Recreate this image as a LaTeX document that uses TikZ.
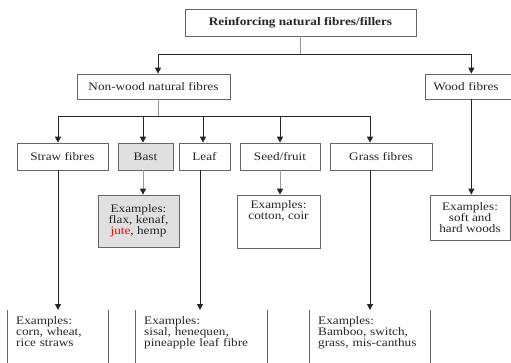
\documentclass[tikz,border=0pt]{standalone}
\usepackage{fontspec}
\setmainfont[FakeStretch=1.15]{Liberation Serif}
\usetikzlibrary{arrows.meta}
\begin{document}
\begin{tikzpicture}[x=1pt,y=-1pt,
  font=\fontsize{11.5}{11}\selectfont,
  box/.style={draw=black!60,line width=0.7pt,fill=white,inner sep=2pt,align=center,text=black!85},
  greybox/.style={box,fill=black!12},
  openbox/.style={anchor=north west,inner xsep=9pt,inner ysep=6pt,align=left,text=black!85},
  link/.style={black!85,line width=1pt},
  stem/.style={black!40,line width=0.8pt},
  arr/.style={link,-{Triangle[length=6pt,width=6pt]}},
  greyarr/.style={stem,-{Triangle[length=6pt,width=6pt,black!85]}},
  side/.style={black!60,line width=0.8pt}]
\useasboundingbox (0,0) rectangle (511,363);
\clip (0,0) rectangle (511,363);

% top levels
\node[box,minimum width=231pt,minimum height=27pt,font=\fontsize{11.5}{11}\selectfont\bfseries] (top) at (300.5,22.5) {Reinforcing natural fibres/fillers};
\node[box,minimum width=153pt,minimum height=25pt] (nonwood) at (153.5,86.5) {Non-wood natural fibres};
\node[box,anchor=west,minimum height=25pt,text width=80pt,inner xsep=8pt,align=left] (wood) at (425,86.5) {Wood fibres};

% non-wood groups
\node[box,minimum width=91pt,minimum height=27pt] (straw) at (62.5,156.5) {Straw fibres};
\node[greybox,minimum width=55pt,minimum height=27pt] (bast) at (145.5,156.5) {Bast};
\node[box,minimum width=51pt,minimum height=27pt] (leaf) at (204.5,156.5) {Leaf};
\node[box,minimum width=80pt,minimum height=27pt] (seed) at (280,156.5) {Seed/fruit};
\node[box,minimum width=102pt,minimum height=27pt] (grass) at (381,156.5) {Grass fibres};

% examples
\node[greybox,minimum width=81pt,minimum height=52pt] (bastex) at (138.5,221) {Examples:\\flax, kenaf,\\\textcolor{red}{jute}, hemp};
\node[box,minimum width=83pt,minimum height=53pt,text depth=22pt] (seedex) at (278.5,221.5) {Examples:\\cotton, coir};
\node[box,minimum width=80pt,minimum height=45pt] (woodex) at (470,217.5) {Examples:\\soft and\\hard woods};
\node[openbox,text width=83pt] (strawex) at (7,310) {Examples:\\corn, wheat,\\rice straws};
\node[openbox,text width=114pt] (leafex) at (135,310) {Examples:\\sisal, henequen,\\pineapple leaf fibre};
\node[openbox,text width=103pt] (grassex) at (309,310) {Examples:\\Bamboo, switch,\\grass, mis-canthus};
\foreach \e in {strawex,leafex,grassex} {
  \draw[side] (\e.north west) -- ++(0,60);
  \draw[side] (\e.north east) -- ++(0,60);
}

% connectors
\coordinate (j1) at (300.5,55);
\coordinate (j2) at (158,117);
\draw[stem] (top.south) -- (j1);
\draw[arr] (j1) -| ([xshift=4.5pt]nonwood.north);
\draw[arr] (j1) -| ([xshift=-2pt]wood.north);
\draw[stem] ([xshift=4.5pt]nonwood.south) -- (j2);
\foreach \b/\dx in {straw/-4.5,bast/-2.5,leaf/-1.5,seed/0,grass/-11} {
  \draw[arr] (j2) -| ([xshift=\dx pt]\b.north);
}
\draw[greyarr] ([xshift=-2.5pt]bast.south) -- ([xshift=-2.5pt]bast.south |- bastex.north);
\draw[greyarr] (seed.south) -- (seed.south |- seedex.north);
\draw[arr] ([xshift=-2pt]wood.south) -- ([xshift=-2pt]wood.south |- woodex.north);
\draw[arr] ([xshift=-4.5pt]straw.south) -- ([xshift=-4.5pt]straw.south |- strawex.north);
\draw[arr] ([xshift=-4.5pt]leaf.south) -- ([xshift=-4.5pt]leaf.south |- leafex.north);
\draw[arr] ([xshift=-11pt]grass.south) -- ([xshift=-11pt]grass.south |- grassex.north);
\end{tikzpicture}
\end{document}
